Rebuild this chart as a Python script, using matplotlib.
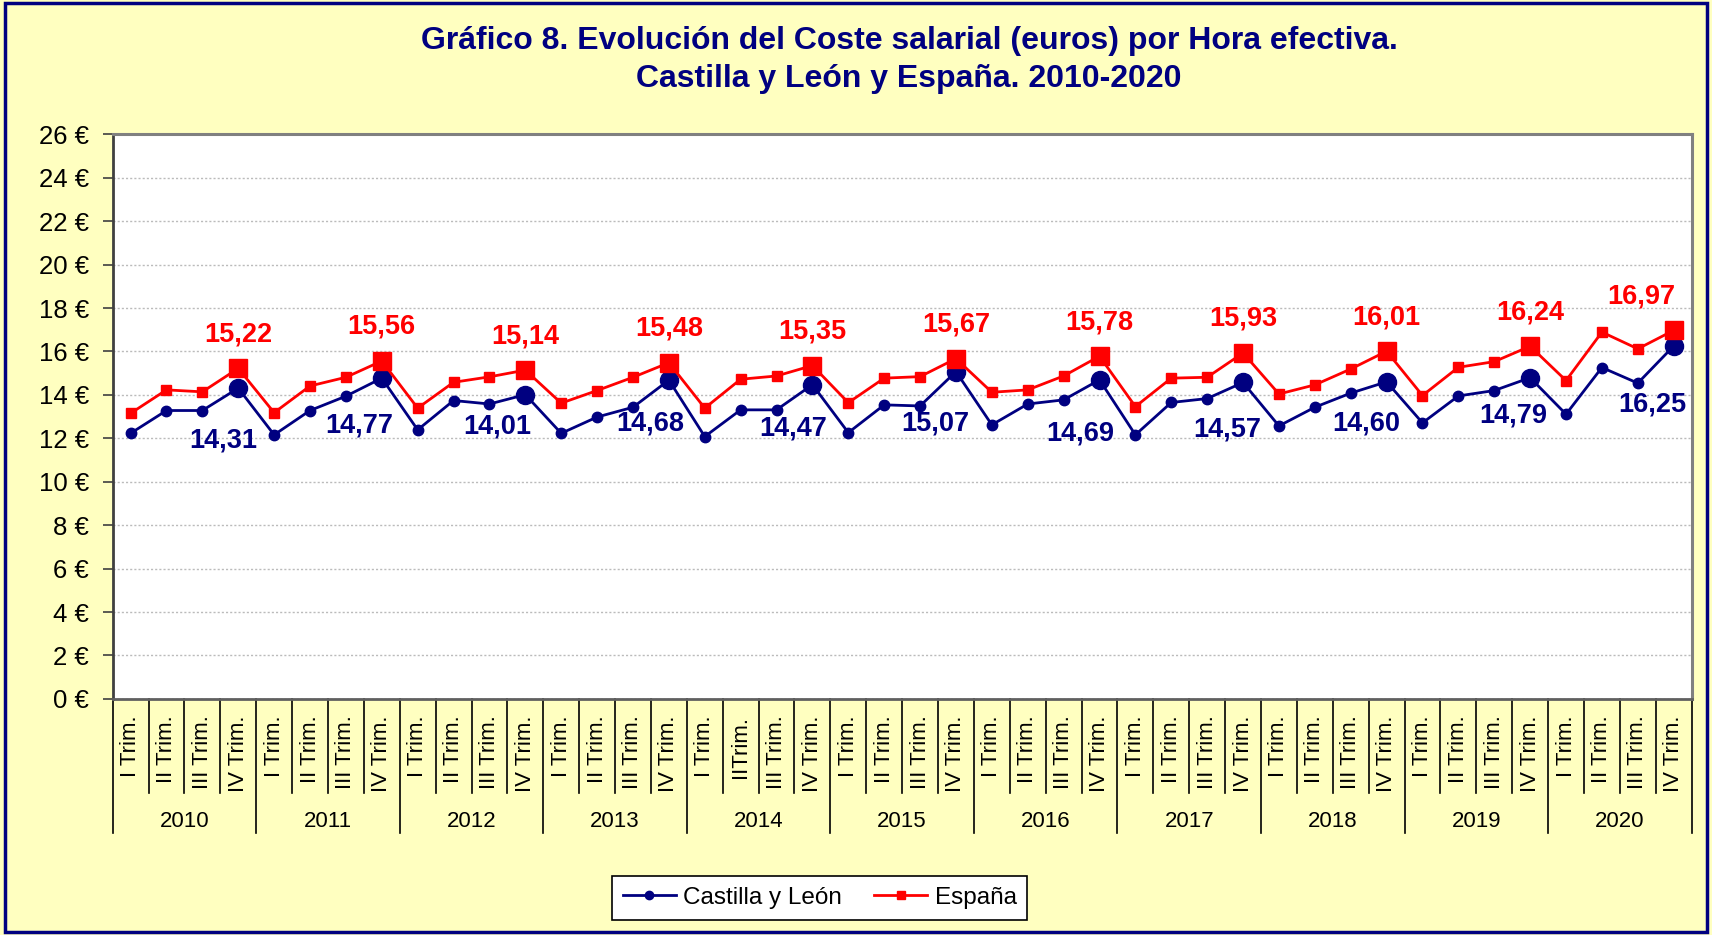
import matplotlib
matplotlib.use("Agg")
import matplotlib.pyplot as plt
from matplotlib.patches import Rectangle
import matplotlib.transforms as mtransforms

plt.rcParams['font.family'] = ['Liberation Sans', 'DejaVu Sans']

years = [str(y) for y in range(2010, 2021)]
quarters = ["I Trim.", "II Trim.", "III Trim.", "IV Trim."]
# la etiqueta del II trimestre de 2014 aparece como "IITrim." en el original
quarter_labels = []
for y in years:
    for q in quarters:
        quarter_labels.append("IITrim." if (y == "2014" and q == "II Trim.") else q)

castilla_leon = [
    12.23, 13.28, 13.28, 14.31,
    12.16, 13.28, 13.94, 14.77,
    12.39, 13.74, 13.58, 14.01,
    12.23, 12.98, 13.43, 14.68,
    12.08, 13.31, 13.31, 14.47,
    12.26, 13.54, 13.49, 15.07,
    12.62, 13.58, 13.77, 14.69,
    12.16, 13.65, 13.83, 14.57,
    12.57, 13.43, 14.08, 14.60,
    12.71, 13.95, 14.20, 14.79,
    13.11, 15.26, 14.54, 16.25,
]
espana = [
    13.15, 14.23, 14.14, 15.22,
    13.18, 14.41, 14.81, 15.56,
    13.39, 14.58, 14.83, 15.14,
    13.62, 14.20, 14.81, 15.48,
    13.39, 14.72, 14.87, 15.35,
    13.64, 14.77, 14.84, 15.67,
    14.12, 14.23, 14.87, 15.78,
    13.46, 14.77, 14.81, 15.93,
    14.04, 14.46, 15.19, 16.01,
    13.97, 15.27, 15.53, 16.24,
    14.66, 16.89, 16.12, 16.97,
]
y_ticks = list(range(0, 27, 2))

# desplazamiento (px) de las etiquetas azules bajo el punto, como en el original
cyl_label_dx = [-15, -23, -28, -19, -19, -21, -19, -16, -20, -17, -21]
cyl_label_dy = [-52, -47, -32, -43, -44, -52, -54, -47, -42, -38, -58]

NAVY = "#000080"
RED = "#FF0000"
BG = "#FFFFC0"

fig = plt.figure(figsize=(17.12, 9.35), dpi=100, facecolor=BG)
ax = fig.add_axes([0.0658, 0.2525, 0.9223, 0.6039])
ax.set_facecolor("white")

x = list(range(len(castilla_leon)))
ax.plot(x, castilla_leon, color=NAVY, lw=2.0, marker="o", ms=7.5, zorder=3,
        label="Castilla y León")
ax.plot(x, espana, color=RED, lw=2.0, marker="s", ms=7, zorder=4,
        label="España")

# marcadores grandes y etiquetas en el IV trimestre
iv = [i for i in x if i % 4 == 3]
ax.plot(iv, [castilla_leon[i] for i in iv], ls="none", marker="o", ms=13,
        color=NAVY, zorder=3)
ax.plot(iv, [espana[i] for i in iv], ls="none", marker="s", ms=12.5,
        color=RED, zorder=4)
for n, i in enumerate(iv):
    dx = -32 if i == iv[-1] else 0
    ax.annotate(f"{espana[i]:.2f}".replace(".", ","), (i, espana[i]),
                xytext=(dx, 34), textcoords="offset pixels",
                ha="center", va="center", color=RED, fontsize=19.5,
                fontweight="bold", zorder=5)
    ax.annotate(f"{castilla_leon[i]:.2f}".replace(".", ","), (i, castilla_leon[i]),
                xytext=(cyl_label_dx[n], cyl_label_dy[n]), textcoords="offset pixels",
                ha="center", va="center", color=NAVY, fontsize=19.5,
                fontweight="bold", zorder=5)

ax.set_xlim(-0.5, len(x) - 0.5)
ax.set_ylim(0, 26)
ax.set_yticks(y_ticks)
ax.set_yticklabels([f"{v} €" for v in y_ticks], fontsize=18.5)
ax.tick_params(axis="y", length=7, width=1.2, color="#404040", pad=10)
ax.yaxis.grid(True, ls=(0, (1.5, 1.5)), color="#BBBBBB", lw=1.0)
ax.set_axisbelow(True)

ax.set_xticks(x)
ax.set_xticklabels(quarter_labels, rotation=90, fontsize=16, va="top", ha="center")
ax.tick_params(axis="x", length=0, pad=12)

for side in ["top", "right"]:
    ax.spines[side].set_color("#808080")
    ax.spines[side].set_linewidth(2.2)
ax.spines["left"].set_color("#404040")
ax.spines["left"].set_linewidth(2.0)
ax.spines["bottom"].set_color("#606060")
ax.spines["bottom"].set_linewidth(2.0)

# separadores de categorias (trimestres y años)
trans = mtransforms.blended_transform_factory(ax.transData, ax.transAxes)
ax_h = 564.6
for k in range(len(x) + 1):
    xb = k - 0.5
    bottom = -(134.0 / ax_h) if k % 4 == 0 else -(94.0 / ax_h)
    ax.plot([xb, xb], [0, bottom], color="black", lw=1.2, transform=trans,
            clip_on=False)
for j, yr in enumerate(years):
    ax.text(j * 4 + 1.5, -(123.0 / ax_h), yr, transform=trans, ha="center",
            va="center", fontsize=16)

fig.text(0.531, 0.956, "Gráfico 8. Evolución del Coste salarial (euros) por Hora efectiva.",
         ha="center", va="center", fontsize=23, fontweight="bold", color=NAVY)
fig.text(0.531, 0.9155, "Castilla y León y España. 2010-2020",
         ha="center", va="center", fontsize=23, fontweight="bold", color=NAVY)

leg = fig.legend(handles=ax.get_lines()[:2], loc="center",
                 bbox_to_anchor=(0.4787, 0.0396), ncol=2, fontsize=17.5,
                 frameon=True, fancybox=False, edgecolor="black",
                 framealpha=1, handlelength=2.2, columnspacing=1.3,
                 borderpad=0.45, handletextpad=0.3, markerscale=0.8)
leg.get_frame().set_linewidth(1.2)

fig.patches.append(Rectangle((0.003, 0.003), 0.994, 0.994, transform=fig.transFigure,
                             fill=False, edgecolor=NAVY, lw=2.5))

fig.savefig("out.png", dpi=100, facecolor=BG)
